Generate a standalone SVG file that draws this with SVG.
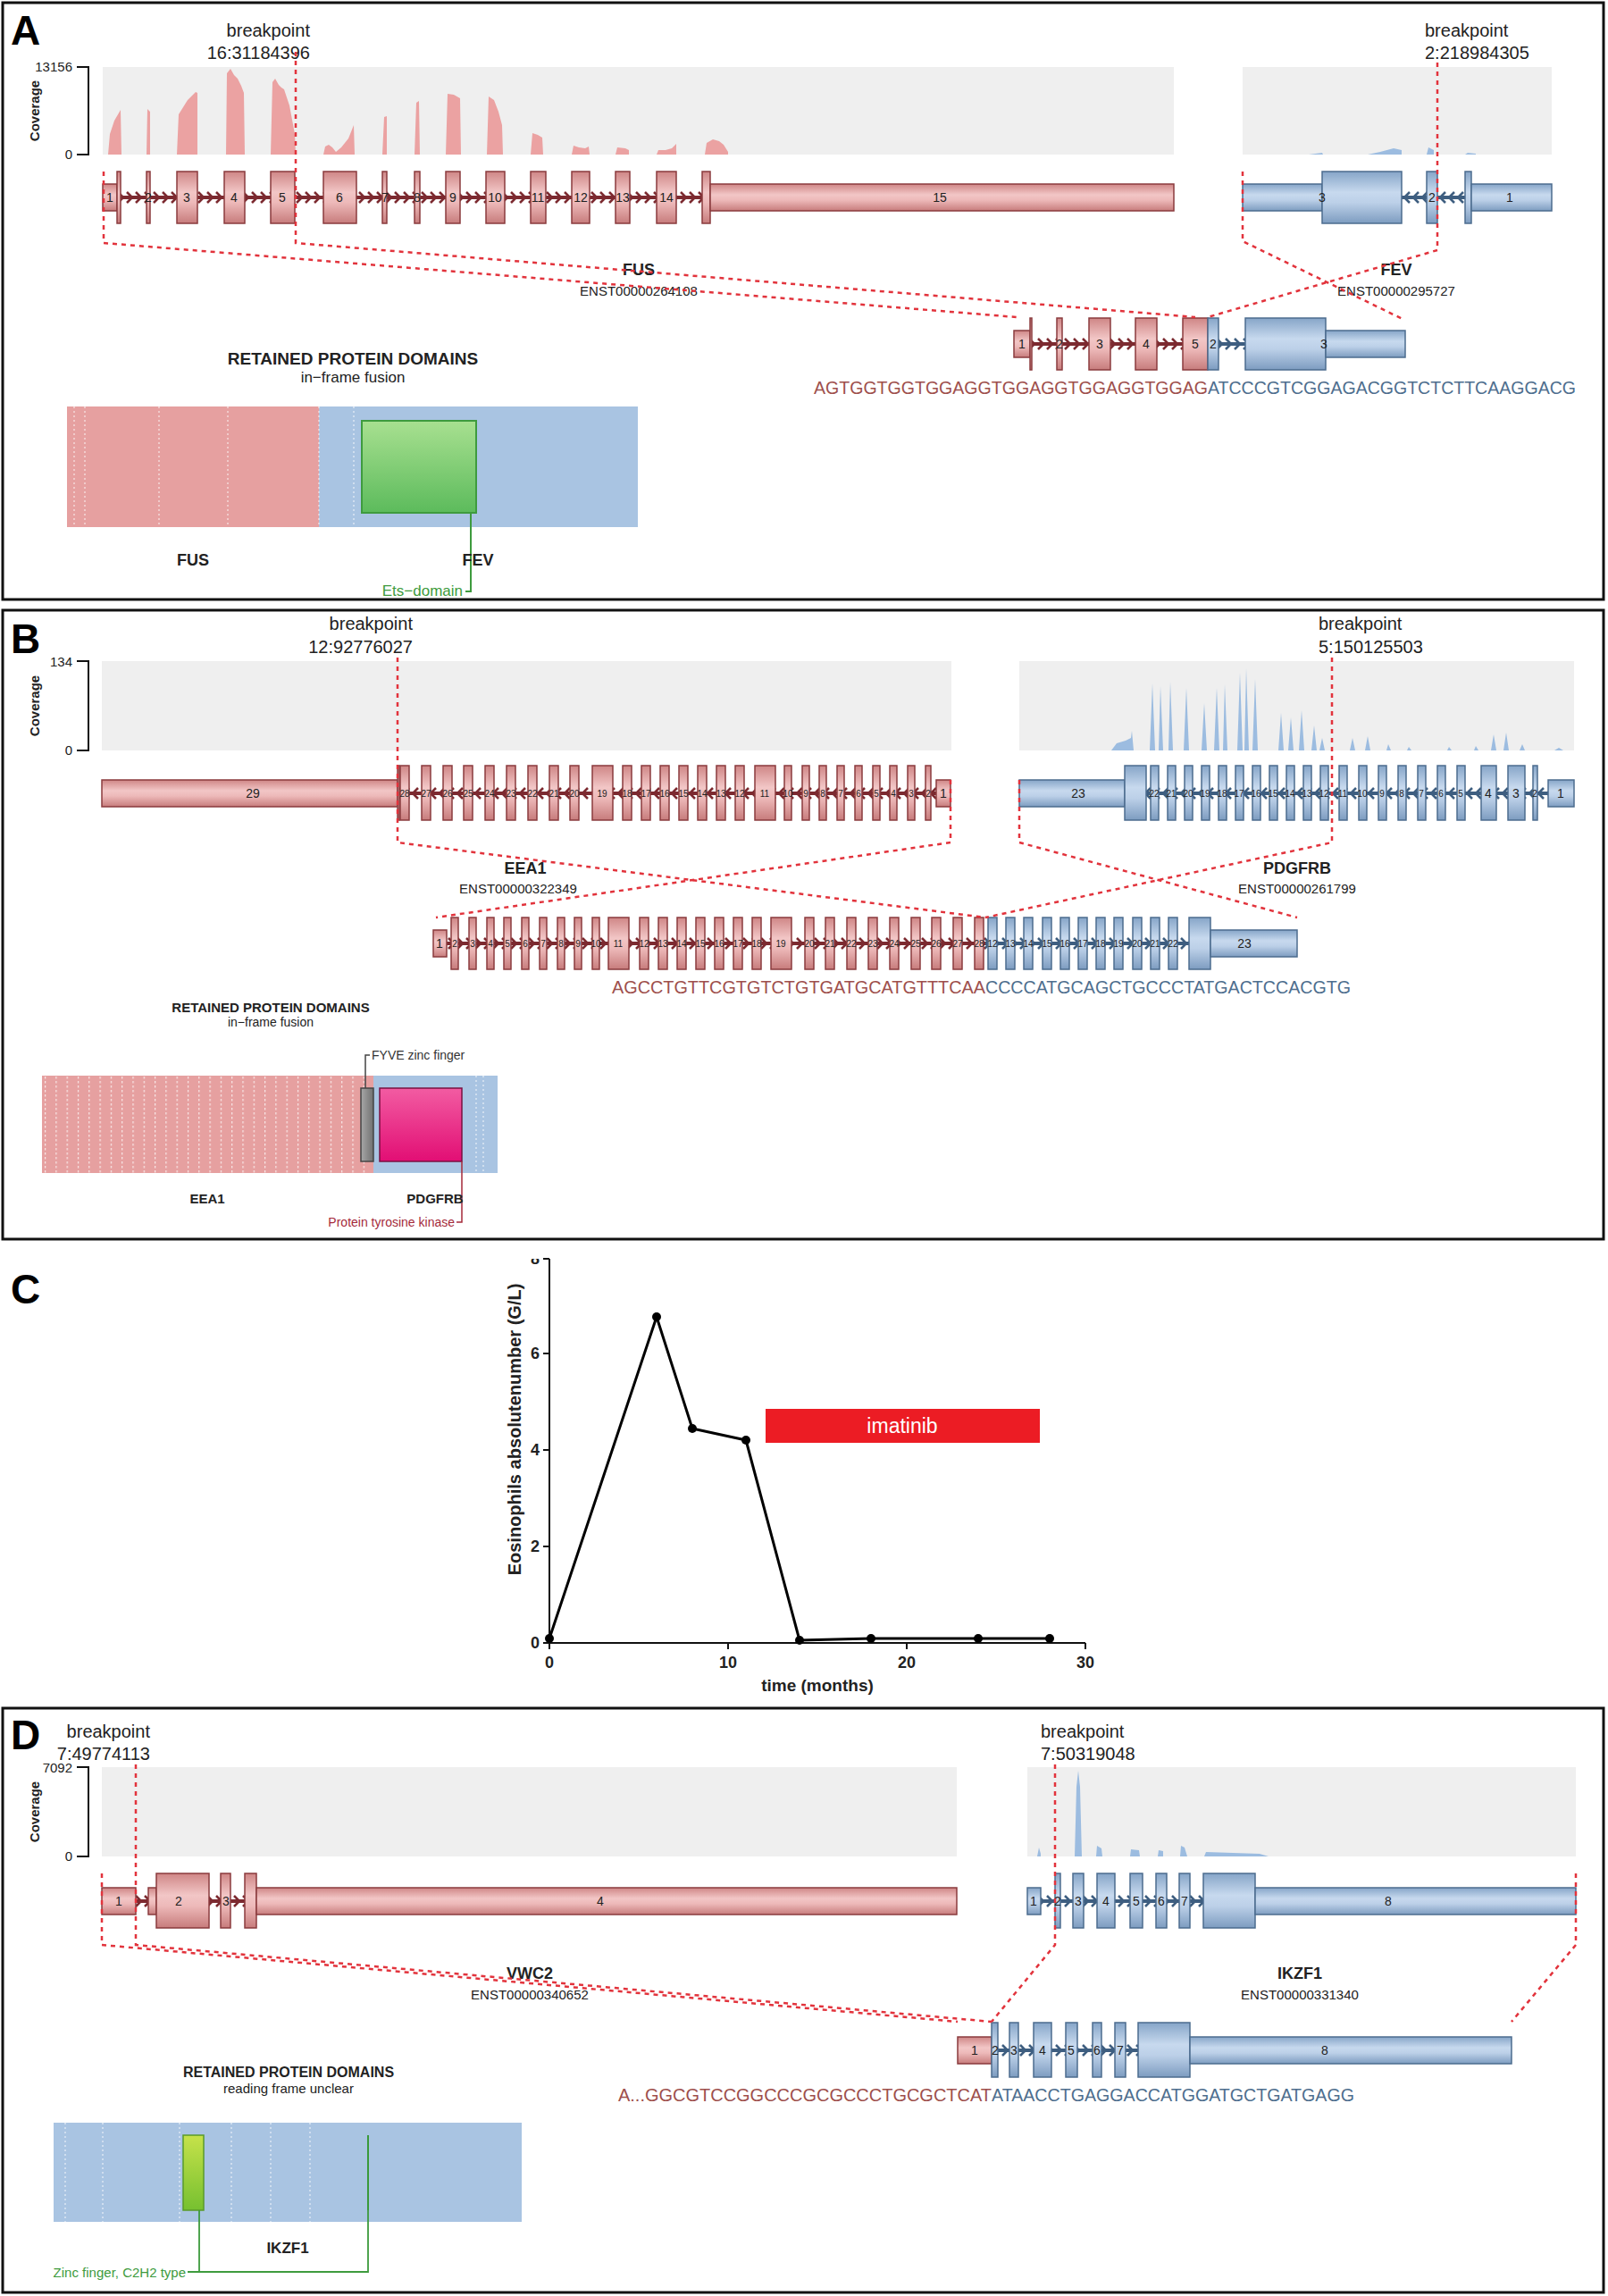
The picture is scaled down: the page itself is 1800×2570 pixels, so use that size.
<svg xmlns="http://www.w3.org/2000/svg" width="1800" height="2570" viewBox="0 0 1800 2570">
<style>
text{font-family:"Liberation Sans",Arial,sans-serif;fill:#222}
.frame{fill:none;stroke:#111;stroke-width:3}
.big{font-size:46px;font-weight:bold;fill:#000}
.bp{font-size:20px}
.ax{fill:none;stroke:#111;stroke-width:2}
.tk{font-size:15px;text-anchor:end}
.cov{font-size:15px;font-weight:bold;text-anchor:middle}
.bg{fill:#EFEFEF}
.cp{fill:#EBA2A2}
.cb{fill:#9CBCE0}
.ep{fill:url(#gP);stroke:#8A3B3E;stroke-width:1.5}
.eb{fill:url(#gB);stroke:#4C6C8E;stroke-width:1.5}
.n{font-size:14px;text-anchor:middle;fill:#222}
.ns{font-size:10px;text-anchor:middle;fill:#222}
.dash{fill:none;stroke:#E2333C;stroke-width:2.5;stroke-dasharray:5 5}
.gn{font-size:18px;font-weight:bold;text-anchor:middle}
.en{font-size:15px;text-anchor:middle}
.seq{font-size:20px}
.sp{fill:#9E4F4C}
.sb{fill:#4E6E8E}
.rt{font-weight:bold;text-anchor:middle}
.mid{text-anchor:middle}
.wd{stroke:#fff;stroke-opacity:0.75;stroke-width:1.2;stroke-dasharray:2 3}
.ct{font-size:18px;font-weight:bold}
</style>
<defs>
<linearGradient id="gP" x1="0" y1="0" x2="0" y2="1"><stop offset="0" stop-color="#CF8686"/><stop offset="0.4" stop-color="#F2C6C6"/><stop offset="0.6" stop-color="#EDB9B9"/><stop offset="1" stop-color="#C77C7C"/></linearGradient>
<linearGradient id="gB" x1="0" y1="0" x2="0" y2="1"><stop offset="0" stop-color="#86A5C8"/><stop offset="0.4" stop-color="#C7D9EE"/><stop offset="0.6" stop-color="#BCD0E8"/><stop offset="1" stop-color="#7D9CC0"/></linearGradient>
<linearGradient id="gG" x1="0" y1="0" x2="0" y2="1"><stop offset="0" stop-color="#A8E090"/><stop offset="1" stop-color="#5CBB5C"/></linearGradient>
<linearGradient id="gY" x1="0" y1="0" x2="0" y2="1"><stop offset="0" stop-color="#C6E24A"/><stop offset="1" stop-color="#76C030"/></linearGradient>
<linearGradient id="gK" x1="0" y1="0" x2="0" y2="1"><stop offset="0" stop-color="#F25CA2"/><stop offset="1" stop-color="#E20E74"/></linearGradient>
<linearGradient id="gS" x1="0" y1="0" x2="1" y2="0"><stop offset="0" stop-color="#A8A8A8"/><stop offset="1" stop-color="#707070"/></linearGradient>
<pattern id="pR" patternUnits="userSpaceOnUse" x="0" y="-8" width="10" height="16"><rect x="0" y="6" width="10" height="4" fill="#7C2A30"/><path d="M2,2 L8,8 L2,14" fill="none" stroke="#7C2A30" stroke-width="2.6"/></pattern>
<pattern id="pL" patternUnits="userSpaceOnUse" x="0" y="-8" width="10" height="16"><rect x="0" y="6" width="10" height="4" fill="#7C2A30"/><path d="M8,2 L2,8 L8,14" fill="none" stroke="#7C2A30" stroke-width="2.6"/></pattern>
<pattern id="bR" patternUnits="userSpaceOnUse" x="0" y="-8" width="10" height="16"><rect x="0" y="6" width="10" height="4" fill="#3E5E80"/><path d="M2,2 L8,8 L2,14" fill="none" stroke="#3E5E80" stroke-width="2.6"/></pattern>
<pattern id="bL" patternUnits="userSpaceOnUse" x="0" y="-8" width="10" height="16"><rect x="0" y="6" width="10" height="4" fill="#3E5E80"/><path d="M8,2 L2,8 L8,14" fill="none" stroke="#3E5E80" stroke-width="2.6"/></pattern>
<pattern id="dots" patternUnits="userSpaceOnUse" x="50" y="0" width="12.3" height="5"><rect x="0" y="0" width="1.2" height="2.5" fill="#fff" fill-opacity="0.75"/></pattern>
<clipPath id="c8"><rect x="560" y="1409" width="60" height="20"/></clipPath>
</defs>
<rect width="1800" height="2570" fill="#fff"/>

<!-- ================= PANEL A ================= -->
<g id="panelA">
<rect class="frame" x="3" y="3" width="1792" height="668"/>
<text class="big" x="12" y="50">A</text>
<g id="A-coverage">
<rect class="bg" x="115" y="75" width="1199" height="98"/>
<rect class="bg" x="1391" y="75" width="346" height="98"/>
<path class="ax" d="M86,75 H99 V173 H86"/>
<text class="tk" x="81" y="80">13156</text>
<text class="tk" x="81" y="178">0</text>
<text class="cov" transform="translate(44,124) rotate(-90)">Coverage</text>
<path class="cp" d="M121,173 L123,150 L128,135 L135,123 L136,173Z M164,173 L165,122 L168,125 L168,173Z M198,173 L200,128 L210,112 L219,103 L221,104 L221,173Z M253,173 L254,82 L258,77 L262,84 L266,88 L270,96 L273,104 L274,173Z M303,173 L305,92 L308,88 L312,95 L315,98 L318,100 L324,118 L330,150 L331,173Z M362,173 L364,164 L368,162 L372,165 L376,170 L382,165 L390,155 L396,140 L397,173Z M428,173 L430,131 L433,130 L433,173Z M464,173 L466,115 L469,113 L470,173Z M499,173 L501,105 L508,106 L515,110 L516,173Z M545,173 L547,108 L553,112 L558,125 L562,140 L563,173Z M594,173 L596,149 L602,151 L607,154 L608,173Z M640,173 L642,163 L648,165 L655,166 L659,164 L660,173Z M689,173 L691,165 L700,166 L704,168 L704,173Z M735,173 L737,168 L745,168 L752,166 L757,161 L757,173Z M789,173 L791,160 L798,156 L805,158 L810,162 L815,170 L815,173Z"/>
<path class="cb" d="M1465,173 L1480,171 L1481,173Z M1531,173 L1545,170 L1560,166 L1569,168 L1569,173Z M1597,173 L1599,165 L1605,168 L1605,173Z M1640,173 L1643,171 L1652,172 L1652,173Z"/>
</g>
<text class="bp" x="347" y="41" text-anchor="end">breakpoint</text>
<text class="bp" x="347" y="66" text-anchor="end">16:31184396</text>
<text class="bp" x="1595" y="41">breakpoint</text>
<text class="bp" x="1595" y="66">2:218984305</text>
<g id="A-FUS" transform="translate(0,221)">
<rect x="131" y="-8" width="655" height="16" fill="url(#pR)"/>
<rect class="ep" x="115" y="-15" width="16" height="30"/><rect class="ep" x="131" y="-29" width="4" height="58"/>
<rect class="ep" x="164" y="-29" width="4" height="58"/>
<rect class="ep" x="198" y="-29" width="23" height="58"/>
<rect class="ep" x="251" y="-29" width="23" height="58"/>
<rect class="ep" x="303" y="-29" width="27" height="58"/>
<rect class="ep" x="362" y="-29" width="37" height="58"/>
<rect class="ep" x="428" y="-29" width="5" height="58"/>
<rect class="ep" x="464" y="-29" width="6" height="58"/>
<rect class="ep" x="499" y="-29" width="16" height="58"/>
<rect class="ep" x="544" y="-29" width="21" height="58"/>
<rect class="ep" x="594" y="-29" width="17" height="58"/>
<rect class="ep" x="640" y="-29" width="20" height="58"/>
<rect class="ep" x="689" y="-29" width="16" height="58"/>
<rect class="ep" x="735" y="-29" width="22" height="58"/>
<rect class="ep" x="786" y="-29" width="9" height="58"/><rect class="ep" x="795" y="-15" width="519" height="30"/>
<text class="n" x="123" y="5">1</text><text class="n" x="166" y="5">2</text><text class="n" x="209" y="5">3</text><text class="n" x="262" y="5">4</text><text class="n" x="316" y="5">5</text><text class="n" x="380" y="5">6</text><text class="n" x="431" y="5">7</text><text class="n" x="467" y="5">8</text><text class="n" x="507" y="5">9</text><text class="n" x="554" y="5">10</text><text class="n" x="602" y="5">11</text><text class="n" x="650" y="5">12</text><text class="n" x="697" y="5">13</text><text class="n" x="746" y="5">14</text><text class="n" x="1052" y="5">15</text>
</g>
<g id="A-FEV" transform="translate(0,221)">
<rect x="1569" y="-8" width="71" height="16" fill="url(#bL)"/>
<rect class="eb" x="1391" y="-15" width="89" height="30"/><rect class="eb" x="1480" y="-29" width="89" height="58"/>
<rect class="eb" x="1597" y="-29" width="12" height="58"/>
<rect class="eb" x="1640" y="-29" width="7" height="58"/><rect class="eb" x="1647" y="-15" width="90" height="30"/>
<text class="n" x="1480" y="5">3</text><text class="n" x="1603" y="5">2</text><text class="n" x="1690" y="5">1</text>
</g>
<text class="gn" x="715" y="308">FUS</text>
<text class="en" x="715" y="331">ENST00000264108</text>
<text class="gn" x="1563" y="308">FEV</text>
<text class="en" x="1563" y="331">ENST00000295727</text>
<g id="A-fusion" transform="translate(0,385)">
<rect x="1153" y="-8" width="171" height="16" fill="url(#pR)"/>
<rect x="1364" y="-8" width="30" height="16" fill="url(#bR)"/>
<rect class="ep" x="1135" y="-15" width="18" height="30"/><rect class="ep" x="1153" y="-29" width="2" height="58"/>
<rect class="ep" x="1183" y="-29" width="6" height="58"/>
<rect class="ep" x="1219" y="-29" width="24" height="58"/>
<rect class="ep" x="1271" y="-29" width="24" height="58"/>
<rect class="ep" x="1324" y="-29" width="28" height="58"/>
<rect class="eb" x="1352" y="-29" width="12" height="58"/>
<rect class="eb" x="1394" y="-29" width="90" height="58"/><rect class="eb" x="1484" y="-15" width="89" height="30"/>
<text class="n" x="1144" y="5">1</text><text class="n" x="1186" y="5">2</text><text class="n" x="1231" y="5">3</text><text class="n" x="1283" y="5">4</text><text class="n" x="1338" y="5">5</text><text class="n" x="1358" y="5">2</text><text class="n" x="1482" y="5">3</text>
</g>
<text class="seq sp" x="911" y="441" textLength="441" lengthAdjust="spacingAndGlyphs">AGTGGTGGTGGAGGTGGAGGTGGAGGTGGAG</text>
<text class="seq sb" x="1352" y="441" textLength="412" lengthAdjust="spacingAndGlyphs">ATCCCGTCGGAGACGGTCTCTTCAAGGACG</text>
<g id="A-domains">
<text class="rt" x="395" y="408" font-size="19">RETAINED PROTEIN DOMAINS</text>
<text class="mid" x="395" y="428" font-size="17">in−frame fusion</text>
<rect x="75" y="455" width="282" height="135" fill="#E6A0A0"/>
<rect x="357" y="455" width="357" height="135" fill="#A9C4E2"/>
<path class="wd" d="M83,455 V590 M95,455 V590 M178,455 V590 M255,455 V590 M357,455 V590 M396,455 V590"/>
<rect x="405" y="471" width="128" height="103" fill="url(#gG)" stroke="#3E9B3E" stroke-width="2"/>
<path d="M527,574 V662 H521" fill="none" stroke="#3E9B3E" stroke-width="2"/>
<text x="518" y="667" text-anchor="end" font-size="17" style="fill:#3E9B3E">Ets−domain</text>
<text class="gn" x="216" y="633">FUS</text>
<text class="gn" x="535" y="633">FEV</text>
</g>
</g>

<!-- ================= PANEL B ================= -->
<g id="panelB">
<rect class="frame" x="3" y="683" width="1792" height="704"/>
<text class="big" x="12" y="731">B</text>
<g id="B-coverage">
<rect class="bg" x="114" y="740" width="951" height="100"/>
<rect class="bg" x="1141" y="740" width="621" height="100"/>
<path class="ax" d="M86,740 H99 V840 H86"/>
<text class="tk" x="81" y="746">134</text>
<text class="tk" x="81" y="845">0</text>
<text class="cov" transform="translate(44,790) rotate(-90)">Coverage</text>
<path class="cb" d="M1244,840 L1250,832 L1260,829 L1266,826 L1267,818 L1269,840Z M1287,840 L1290,765 L1293,840Z M1297,840 L1299,768 L1302,840Z M1308,840 L1310,763 L1313,840Z M1325,840 L1328,770 L1331,840Z M1345,840 L1348,787 L1351,840Z M1359,840 L1362,770 L1365,840Z M1369,840 L1371,766 L1374,840Z M1385,840 L1388,753 L1391,840Z M1393,840 L1395,748 L1398,840Z M1402,840 L1405,760 L1408,840Z M1431,840 L1434,798 L1437,840Z M1442,840 L1445,803 L1448,840Z M1454,840 L1457,795 L1460,840Z M1468,840 L1471,812 L1474,840Z M1477,840 L1480,826 L1483,840Z M1511,840 L1514,826 L1517,840Z M1528,840 L1531,824 L1534,840Z M1552,840 L1554,833 L1557,840Z M1575,840 L1577,836 L1580,840Z M1620,840 L1622,836 L1625,840Z M1650,840 L1652,835 L1655,840Z M1669,840 L1672,822 L1675,840Z M1683,840 L1686,820 L1689,840Z M1701,840 L1704,833 L1707,840Z M1740,840 L1745,837 L1750,840Z"/>
</g>
<text class="bp" x="462" y="705" text-anchor="end">breakpoint</text>
<text class="bp" x="462" y="731" text-anchor="end">12:92776027</text>
<text class="bp" x="1476" y="705">breakpoint</text>
<text class="bp" x="1476" y="731">5:150125503</text>
<g id="B-EEA1" transform="translate(0,888)">
<rect x="445" y="-8" width="603" height="16" fill="url(#pL)"/>
<rect class="ep" x="114" y="-15" width="331" height="30"/>
<rect class="ep" x="445" y="-31" width="2" height="61"/>
<rect class="ep" x="448" y="-31" width="10" height="61"/><rect class="ep" x="472" y="-31" width="10" height="61"/><rect class="ep" x="496" y="-31" width="10" height="61"/><rect class="ep" x="519" y="-31" width="10" height="61"/><rect class="ep" x="543" y="-31" width="10" height="61"/><rect class="ep" x="567" y="-31" width="10" height="61"/><rect class="ep" x="591" y="-31" width="10" height="61"/><rect class="ep" x="615" y="-31" width="10" height="61"/><rect class="ep" x="638" y="-31" width="10" height="61"/>
<rect class="ep" x="663" y="-31" width="23" height="61"/>
<rect class="ep" x="697" y="-31" width="10" height="61"/><rect class="ep" x="718" y="-31" width="10" height="61"/><rect class="ep" x="739" y="-31" width="10" height="61"/><rect class="ep" x="760" y="-31" width="10" height="61"/><rect class="ep" x="781" y="-31" width="10" height="61"/><rect class="ep" x="802" y="-31" width="10" height="61"/><rect class="ep" x="823" y="-31" width="10" height="61"/>
<rect class="ep" x="845" y="-31" width="23" height="61"/>
<rect class="ep" x="878" y="-31" width="8" height="61"/><rect class="ep" x="898" y="-31" width="8" height="61"/><rect class="ep" x="917" y="-31" width="8" height="61"/><rect class="ep" x="937" y="-31" width="8" height="61"/><rect class="ep" x="957" y="-31" width="8" height="61"/><rect class="ep" x="977" y="-31" width="8" height="61"/><rect class="ep" x="996" y="-31" width="8" height="61"/><rect class="ep" x="1016" y="-31" width="8" height="61"/><rect class="ep" x="1036" y="-31" width="6" height="61"/>
<rect class="ep" x="1048" y="-15" width="16" height="30"/>
<text class="n" x="283" y="5">29</text>
<text class="ns" x="453" y="4">28</text><text class="ns" x="477" y="4">27</text><text class="ns" x="501" y="4">26</text><text class="ns" x="524" y="4">25</text><text class="ns" x="548" y="4">24</text><text class="ns" x="572" y="4">23</text><text class="ns" x="596" y="4">22</text><text class="ns" x="620" y="4">21</text><text class="ns" x="643" y="4">20</text><text class="ns" x="674" y="4">19</text><text class="ns" x="702" y="4">18</text><text class="ns" x="723" y="4">17</text><text class="ns" x="744" y="4">16</text><text class="ns" x="765" y="4">15</text><text class="ns" x="786" y="4">14</text><text class="ns" x="807" y="4">13</text><text class="ns" x="828" y="4">12</text><text class="ns" x="856" y="4">11</text><text class="ns" x="882" y="4">10</text><text class="ns" x="902" y="4">9</text><text class="ns" x="921" y="4">8</text><text class="ns" x="941" y="4">7</text><text class="ns" x="961" y="4">6</text><text class="ns" x="981" y="4">5</text><text class="ns" x="1000" y="4">4</text><text class="ns" x="1020" y="4">3</text><text class="ns" x="1039" y="4">2</text><text class="n" x="1056" y="5">1</text>
</g>
<g id="B-PDGFRB" transform="translate(0,888)">
<rect x="1283" y="-8" width="450" height="16" fill="url(#bL)"/>
<rect class="eb" x="1141" y="-15" width="118" height="30"/><rect class="eb" x="1259" y="-31" width="24" height="61"/>
<rect class="eb" x="1288" y="-31" width="9" height="61"/><rect class="eb" x="1307" y="-31" width="9" height="61"/><rect class="eb" x="1326" y="-31" width="9" height="61"/><rect class="eb" x="1345" y="-31" width="9" height="61"/><rect class="eb" x="1364" y="-31" width="9" height="61"/><rect class="eb" x="1383" y="-31" width="9" height="61"/><rect class="eb" x="1402" y="-31" width="9" height="61"/><rect class="eb" x="1421" y="-31" width="9" height="61"/><rect class="eb" x="1440" y="-31" width="9" height="61"/><rect class="eb" x="1459" y="-31" width="9" height="61"/><rect class="eb" x="1478" y="-31" width="9" height="61"/>
<rect class="eb" x="1499" y="-31" width="9" height="61"/><rect class="eb" x="1521" y="-31" width="9" height="61"/><rect class="eb" x="1543" y="-31" width="9" height="61"/><rect class="eb" x="1565" y="-31" width="9" height="61"/><rect class="eb" x="1587" y="-31" width="9" height="61"/><rect class="eb" x="1609" y="-31" width="9" height="61"/><rect class="eb" x="1631" y="-31" width="9" height="61"/>
<rect class="eb" x="1658" y="-31" width="17" height="61"/><rect class="eb" x="1688" y="-31" width="19" height="61"/><rect class="eb" x="1716" y="-31" width="5" height="61"/>
<rect class="eb" x="1733" y="-15" width="29" height="30"/>
<text class="n" x="1207" y="5">23</text>
<text class="ns" x="1292" y="4">22</text><text class="ns" x="1311" y="4">21</text><text class="ns" x="1330" y="4">20</text><text class="ns" x="1349" y="4">19</text><text class="ns" x="1368" y="4">18</text><text class="ns" x="1387" y="4">17</text><text class="ns" x="1406" y="4">16</text><text class="ns" x="1425" y="4">15</text><text class="ns" x="1444" y="4">14</text><text class="ns" x="1463" y="4">13</text><text class="ns" x="1482" y="4">12</text><text class="ns" x="1503" y="4">11</text><text class="ns" x="1525" y="4">10</text><text class="ns" x="1547" y="4">9</text><text class="ns" x="1569" y="4">8</text><text class="ns" x="1591" y="4">7</text><text class="ns" x="1613" y="4">6</text><text class="ns" x="1635" y="4">5</text><text class="n" x="1666" y="5">4</text><text class="n" x="1697" y="5">3</text><text class="ns" x="1718" y="4">2</text><text class="n" x="1747" y="5">1</text>
</g>
<text class="gn" x="588" y="978">EEA1</text>
<text class="en" x="580" y="1000">ENST00000322349</text>
<text class="gn" x="1452" y="978">PDGFRB</text>
<text class="en" x="1452" y="1000">ENST00000261799</text>
<g id="B-fusion" transform="translate(0,1056)">
<rect x="500" y="-8" width="603" height="16" fill="url(#pR)"/>
<rect x="1103" y="-8" width="228" height="16" fill="url(#bR)"/>
<rect class="ep" x="485" y="-15" width="15" height="30"/>
<rect class="ep" x="505" y="-29" width="8" height="58"/><rect class="ep" x="525" y="-29" width="8" height="58"/><rect class="ep" x="545" y="-29" width="8" height="58"/><rect class="ep" x="564" y="-29" width="8" height="58"/><rect class="ep" x="584" y="-29" width="8" height="58"/><rect class="ep" x="604" y="-29" width="8" height="58"/><rect class="ep" x="624" y="-29" width="8" height="58"/><rect class="ep" x="643" y="-29" width="8" height="58"/><rect class="ep" x="663" y="-29" width="8" height="58"/>
<rect class="ep" x="681" y="-29" width="23" height="58"/>
<rect class="ep" x="716" y="-29" width="10" height="58"/><rect class="ep" x="737" y="-29" width="10" height="58"/><rect class="ep" x="758" y="-29" width="10" height="58"/><rect class="ep" x="779" y="-29" width="10" height="58"/><rect class="ep" x="800" y="-29" width="10" height="58"/><rect class="ep" x="821" y="-29" width="10" height="58"/><rect class="ep" x="842" y="-29" width="10" height="58"/>
<rect class="ep" x="863" y="-29" width="23" height="58"/>
<rect class="ep" x="901" y="-29" width="10" height="58"/><rect class="ep" x="924" y="-29" width="10" height="58"/><rect class="ep" x="948" y="-29" width="10" height="58"/><rect class="ep" x="972" y="-29" width="10" height="58"/><rect class="ep" x="996" y="-29" width="10" height="58"/><rect class="ep" x="1020" y="-29" width="10" height="58"/><rect class="ep" x="1043" y="-29" width="10" height="58"/><rect class="ep" x="1067" y="-29" width="10" height="58"/><rect class="ep" x="1091" y="-29" width="10" height="58"/>
<rect class="eb" x="1106" y="-29" width="10" height="58"/><rect class="eb" x="1126" y="-29" width="10" height="58"/><rect class="eb" x="1146" y="-29" width="10" height="58"/><rect class="eb" x="1167" y="-29" width="10" height="58"/><rect class="eb" x="1187" y="-29" width="10" height="58"/><rect class="eb" x="1207" y="-29" width="10" height="58"/><rect class="eb" x="1227" y="-29" width="10" height="58"/><rect class="eb" x="1247" y="-29" width="10" height="58"/><rect class="eb" x="1268" y="-29" width="10" height="58"/><rect class="eb" x="1288" y="-29" width="10" height="58"/><rect class="eb" x="1308" y="-29" width="10" height="58"/>
<rect class="eb" x="1331" y="-29" width="24" height="58"/><rect class="eb" x="1355" y="-15" width="97" height="30"/>
<text class="n" x="492" y="5">1</text>
<text class="ns" x="509" y="4">2</text><text class="ns" x="529" y="4">3</text><text class="ns" x="549" y="4">4</text><text class="ns" x="568" y="4">5</text><text class="ns" x="588" y="4">6</text><text class="ns" x="608" y="4">7</text><text class="ns" x="628" y="4">8</text><text class="ns" x="647" y="4">9</text><text class="ns" x="667" y="4">10</text><text class="ns" x="692" y="4">11</text><text class="ns" x="721" y="4">12</text><text class="ns" x="742" y="4">13</text><text class="ns" x="763" y="4">14</text><text class="ns" x="784" y="4">15</text><text class="ns" x="805" y="4">16</text><text class="ns" x="826" y="4">17</text><text class="ns" x="847" y="4">18</text><text class="ns" x="874" y="4">19</text><text class="ns" x="906" y="4">20</text><text class="ns" x="929" y="4">21</text><text class="ns" x="953" y="4">22</text><text class="ns" x="977" y="4">23</text><text class="ns" x="1001" y="4">24</text><text class="ns" x="1025" y="4">25</text><text class="ns" x="1048" y="4">26</text><text class="ns" x="1072" y="4">27</text><text class="ns" x="1096" y="4">28</text>
<text class="ns" x="1111" y="4">12</text><text class="ns" x="1131" y="4">13</text><text class="ns" x="1151" y="4">14</text><text class="ns" x="1172" y="4">15</text><text class="ns" x="1192" y="4">16</text><text class="ns" x="1212" y="4">17</text><text class="ns" x="1232" y="4">18</text><text class="ns" x="1252" y="4">19</text><text class="ns" x="1273" y="4">20</text><text class="ns" x="1293" y="4">21</text><text class="ns" x="1313" y="4">22</text>
<text class="n" x="1393" y="5">23</text>
</g>
<text class="seq sp" x="685" y="1112" textLength="418" lengthAdjust="spacingAndGlyphs">AGCCTGTTCGTGTCTGTGATGCATGTTTCAA</text>
<text class="seq sb" x="1103" y="1112" textLength="409" lengthAdjust="spacingAndGlyphs">CCCCATGCAGCTGCCCTATGACTCCACGTG</text>
<g id="B-domains">
<text class="rt" x="303" y="1133" font-size="15">RETAINED PROTEIN DOMAINS</text>
<text class="mid" x="303" y="1149" font-size="14">in−frame fusion</text>
<rect x="47" y="1204" width="371" height="109" fill="#E6A0A0"/>
<rect x="418" y="1204" width="139" height="109" fill="#A9C4E2"/>
<rect x="50" y="1204" width="366" height="109" fill="url(#dots)"/>
<path class="wd" d="M533,1204 V1313 M541,1204 V1313"/>
<rect x="404" y="1218" width="14" height="82" fill="url(#gS)" stroke="#444" stroke-width="1.5"/>
<rect x="425" y="1218" width="92" height="82" fill="url(#gK)" stroke="#7A1040" stroke-width="1.5"/>
<path d="M409,1218 V1181 H414" fill="none" stroke="#444" stroke-width="1.5"/>
<text x="416" y="1186" font-size="14" style="fill:#333">FYVE zinc finger</text>
<path d="M517,1300 V1368 H511" fill="none" stroke="#A52A3A" stroke-width="1.5"/>
<text x="509" y="1373" text-anchor="end" font-size="14" style="fill:#A52A3A">Protein tyrosine kinase</text>
<text class="rt" x="232" y="1347" font-size="15">EEA1</text>
<text class="rt" x="487" y="1347" font-size="15">PDGFRB</text>
</g>
</g>

<!-- ================= PANEL C ================= -->
<g id="panelC">
<text class="big" x="12" y="1459">C</text>
<path class="ax" d="M615,1409 V1839 H1215"/>
<path class="ax" d="M608,1839 H615 M608,1731 H615 M608,1623 H615 M608,1515 H615 M608,1409 H615 M615,1839 V1846 M815,1839 V1846 M1015,1839 V1846 M1215,1839 V1846"/>
<text class="ct" x="604" y="1845" text-anchor="end">0</text>
<text class="ct" x="604" y="1737" text-anchor="end">2</text>
<text class="ct" x="604" y="1629" text-anchor="end">4</text>
<text class="ct" x="604" y="1521" text-anchor="end">6</text>
<text class="ct" x="604" y="1415" text-anchor="end" clip-path="url(#c8)">8</text>
<text class="ct" x="615" y="1867" text-anchor="middle">0</text>
<text class="ct" x="815" y="1867" text-anchor="middle">10</text>
<text class="ct" x="1015" y="1867" text-anchor="middle">20</text>
<text class="ct" x="1215" y="1867" text-anchor="middle">30</text>
<text x="915" y="1893" text-anchor="middle" font-size="19" font-weight="bold">time (months)</text>
<text transform="translate(583,1600) rotate(-90)" text-anchor="middle" font-size="20" font-weight="bold">Eosinophils absolutenumber (G/L)</text>
<rect x="857" y="1577" width="307" height="38" fill="#EC1C24"/>
<text x="1010" y="1604" text-anchor="middle" font-size="23" style="fill:#fff">imatinib</text>
<polyline points="615,1834 735,1474 775,1599 835,1612 895,1836 975,1834 1095,1834 1175,1834" fill="none" stroke="#000" stroke-width="3" stroke-linejoin="round"/>
<g fill="#000"><circle cx="615" cy="1834" r="5"/><circle cx="735" cy="1474" r="5"/><circle cx="775" cy="1599" r="5"/><circle cx="835" cy="1612" r="5"/><circle cx="895" cy="1836" r="5"/><circle cx="975" cy="1834" r="5"/><circle cx="1095" cy="1834" r="5"/><circle cx="1175" cy="1834" r="5"/></g>
</g>

<!-- ================= PANEL D ================= -->
<g id="panelD">
<rect class="frame" x="3" y="1912" width="1792" height="654"/>
<text class="big" x="12" y="1958">D</text>
<g id="D-coverage">
<rect class="bg" x="114" y="1978" width="957" height="100"/>
<rect class="bg" x="1150" y="1978" width="614" height="100"/>
<path class="ax" d="M86,1978 H99 V2078 H86"/>
<text class="tk" x="81" y="1984">7092</text>
<text class="tk" x="81" y="2083">0</text>
<text class="cov" transform="translate(44,2028) rotate(-90)">Coverage</text>
<path class="cb" d="M1161,2078 L1163,2068 L1165,2075 L1165,2078Z M1203,2078 L1205,2000 L1207,1982 L1209,2000 L1211,2078Z M1227,2078 L1228,2066 L1233,2069 L1234,2078Z M1265,2078 L1266,2070 L1275,2071 L1276,2078Z M1296,2078 L1297,2071 L1302,2072 L1302,2078Z M1321,2078 L1322,2066 L1326,2068 L1329,2078Z M1348,2078 L1350,2073 L1380,2074 L1410,2075 L1420,2078Z"/>
</g>
<text class="bp" x="168" y="1945" text-anchor="end">breakpoint</text>
<text class="bp" x="168" y="1970" text-anchor="end">7:49774113</text>
<text class="bp" x="1165" y="1945">breakpoint</text>
<text class="bp" x="1165" y="1970">7:50319048</text>
<g id="D-VWC2" transform="translate(0,2128)">
<rect x="152" y="-8" width="122" height="16" fill="url(#pR)"/>
<rect class="ep" x="114" y="-15" width="38" height="30"/>
<rect class="ep" x="166" y="-15" width="9" height="30"/><rect class="ep" x="175" y="-31" width="59" height="61"/>
<rect class="ep" x="247" y="-31" width="11" height="61"/>
<rect class="ep" x="274" y="-31" width="13" height="61"/><rect class="ep" x="287" y="-15" width="784" height="30"/>
<text class="n" x="133" y="5">1</text><text class="n" x="200" y="5">2</text><text class="n" x="253" y="5">3</text><text class="n" x="672" y="5">4</text>
</g>
<g id="D-IKZF1" transform="translate(0,2128)">
<rect x="1165" y="-8" width="182" height="16" fill="url(#bR)"/>
<rect class="eb" x="1150" y="-15" width="15" height="30"/>
<rect class="eb" x="1181" y="-31" width="6" height="61"/>
<rect class="eb" x="1201" y="-31" width="12" height="61"/>
<rect class="eb" x="1228" y="-31" width="20" height="61"/>
<rect class="eb" x="1265" y="-31" width="14" height="61"/>
<rect class="eb" x="1294" y="-31" width="12" height="61"/>
<rect class="eb" x="1320" y="-31" width="12" height="61"/>
<rect class="eb" x="1347" y="-31" width="58" height="61"/><rect class="eb" x="1405" y="-15" width="359" height="30"/>
<text class="n" x="1157" y="5">1</text><text class="n" x="1184" y="5">2</text><text class="n" x="1207" y="5">3</text><text class="n" x="1238" y="5">4</text><text class="n" x="1272" y="5">5</text><text class="n" x="1300" y="5">6</text><text class="n" x="1326" y="5">7</text><text class="n" x="1554" y="5">8</text>
</g>
<text class="gn" x="593" y="2215">VWC2</text>
<text class="en" x="593" y="2238">ENST00000340652</text>
<text class="gn" x="1455" y="2215">IKZF1</text>
<text class="en" x="1455" y="2238">ENST00000331340</text>
<g id="D-fusion" transform="translate(0,2295)">
<rect x="1110" y="-8" width="164" height="16" fill="url(#bR)"/>
<rect class="ep" x="1072" y="-15" width="38" height="30"/>
<rect class="eb" x="1110" y="-31" width="7" height="61"/>
<rect class="eb" x="1130" y="-31" width="10" height="61"/>
<rect class="eb" x="1157" y="-31" width="20" height="61"/>
<rect class="eb" x="1193" y="-31" width="13" height="61"/>
<rect class="eb" x="1223" y="-31" width="10" height="61"/>
<rect class="eb" x="1248" y="-31" width="12" height="61"/>
<rect class="eb" x="1274" y="-31" width="58" height="61"/><rect class="eb" x="1332" y="-15" width="360" height="30"/>
<text class="n" x="1091" y="5">1</text><text class="n" x="1114" y="5">2</text><text class="n" x="1135" y="5">3</text><text class="n" x="1167" y="5">4</text><text class="n" x="1199" y="5">5</text><text class="n" x="1228" y="5">6</text><text class="n" x="1254" y="5">7</text><text class="n" x="1483" y="5">8</text>
</g>
<text class="seq sp" x="692" y="2352" textLength="418" lengthAdjust="spacingAndGlyphs">A...GGCGTCCGGCCCGCGCCCTGCGCTCAT</text>
<text class="seq sb" x="1110" y="2352" textLength="406" lengthAdjust="spacingAndGlyphs">ATAACCTGAGGACCATGGATGCTGATGAGG</text>
<g id="D-domains">
<text class="rt" x="323" y="2325" font-size="16">RETAINED PROTEIN DOMAINS</text>
<text class="mid" x="323" y="2343" font-size="15">reading frame unclear</text>
<rect x="60" y="2376" width="524" height="111" fill="#A9C4E2"/>
<path class="wd" d="M73,2376 V2487 M115,2376 V2487 M201,2376 V2487 M259,2376 V2487 M303,2376 V2487 M347,2376 V2487"/>
<rect x="205" y="2390" width="23" height="84" fill="url(#gY)" stroke="#5A9A2A" stroke-width="1.5"/>
<path d="M412,2390 V2474" stroke="#3A9A3A" stroke-width="2"/>
<path d="M223,2474 V2543 H412 V2474 M210,2543 H223" fill="none" stroke="#3E9B3E" stroke-width="1.8"/>
<text x="208" y="2549" text-anchor="end" font-size="15" style="fill:#3E9B3E">Zinc finger, C2H2 type</text>
<text class="rt" x="322" y="2522" font-size="17">IKZF1</text>
</g>
</g>

<!-- ================= CONNECTORS ================= -->
<g id="connectors">
<path class="dash" d="M116,192 V272 L1138,355"/>
<path class="dash" d="M331,58 V272 L1338,355"/>
<path class="dash" d="M1391,192 V270 L1572,358"/>
<path class="dash" d="M1609,70 V280 L1352,355"/>
<path class="dash" d="M445,736 V943 L1103,1027"/>
<path class="dash" d="M1064,873 V943 L488,1027"/>
<path class="dash" d="M1141,873 V943 L1452,1027"/>
<path class="dash" d="M1491,736 V943 L1103,1027"/>
<path class="dash" d="M114,2097 V2177 L1072,2263"/>
<path class="dash" d="M152,1975 V2177 L1110,2263"/>
<path class="dash" d="M1181,1975 V2177 L1110,2263"/>
<path class="dash" d="M1764,2097 V2177 L1692,2263"/>
</g>
</svg>
